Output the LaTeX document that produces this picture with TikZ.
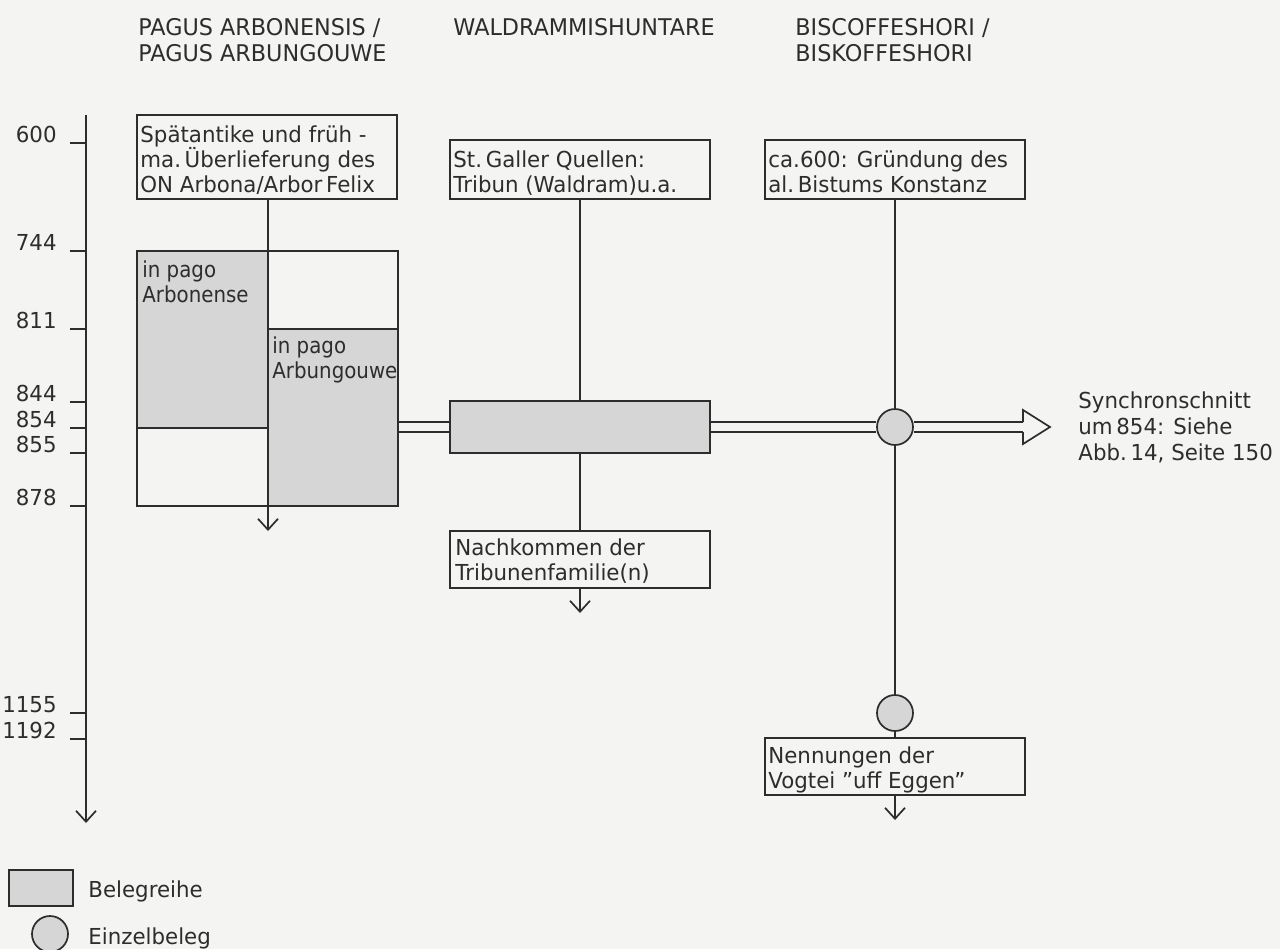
\documentclass[tikz,border=0pt]{standalone}
\usepackage{fontspec}
\setmainfont{DejaVu Sans}[FakeStretch=0.97]
\newfontfamily\narrowfont{DejaVu Sans}[FakeStretch=0.9]
\usetikzlibrary{arrows.meta,fit,backgrounds}
\definecolor{paper}{RGB}{244,244,242}
\definecolor{ink}{RGB}{45,45,45}
\definecolor{shade}{RGB}{214,214,214}
\begin{document}
\begin{tikzpicture}[x=0.5pt,y=-0.5pt,
  ln/.style={draw=ink, line width=0.85pt},
  frame/.style={draw=ink, line width=0.85pt, inner sep=0pt},
  band/.style={draw=ink, line width=0.85pt, inner sep=0pt, fill=shade},
  event/.style={circle, draw=ink, line width=0.85pt, fill=shade, minimum size=18pt, inner sep=0pt},
  txt/.style={anchor=north west, inner sep=0pt, align=left, text=ink, font=\fontsize{11}{12.5}\selectfont},
  head/.style={anchor=north west, inner sep=0pt, align=left, text=ink, font=\fontsize{11.5}{13}\selectfont},
  yr/.style={anchor=base east, inner sep=0pt, text=ink, font=\fontsize{11}{12.5}\selectfont},
  down/.style={draw=ink, line width=0.85pt, -{Straight Barb[length=5.5pt,width=10pt,line width=0.85pt]}},
  dbl/.style={draw=ink, line width=0.85pt, double=paper, double distance=4.15pt},
]
\useasboundingbox (0,0) rectangle (1280,949);

% headings
\node[head] (h1) at (138,18.5) {PAGUS ARBONENSIS /\\PAGUS ARBUNGOUWE};
\node[head] (h2) at (453,18.5) {WALDRAMMISHUNTARE};
\node[head] (h3) at (795,18.5) {BISCOFFESHORI /\\BISKOFFESHORI};

% time axis
\coordinate (axtop) at (86,115);
\coordinate (axend) at (86,823);
\draw[down] (axtop) -- (axend);
\foreach \yy/\t in {143/600,251/744,329/811,402/844,428/854,453/855,506/878,713/1155,739/1192}{
  \draw[ln] (70,\yy) -- (86,\yy);
  \node[yr] (yr\t) at (57,{\yy-1}) {\t};
}

% column 1
\node[frame, fit={(137,115) (397,199)}] (b1) {};
\node[txt] (b1t) at (140,125.3) {Spätantike und früh -\\ma.\,Überlieferung des\\ON Arbona/Arbor\,Felix};
\node[band, fit={(137,251) (268,428)}] (bigL) {};
\node[band, fit={(268,329) (398,506)}] (bigR) {};
\node[frame, fit={(137,251) (398,506)}] (bigrect) {};
\node[txt, font=\narrowfont\fontsize{11}{12.5}\selectfont] (bigLt) at (142,260) {in pago\\Arbonense};
\node[txt, font=\narrowfont\fontsize{11}{12.5}\selectfont] (bigRt) at (272,336) {in pago\\Arbungouwe};
\coordinate (end1) at (268,531);
\draw[down] (b1.south -| end1) -- (end1);

% column 2
\node[frame, fit={(450,140) (710,199)}] (b3) {};
\node[txt] (b3t) at (453,150.3) {St.\,Galler Quellen:\\Tribun (Waldram)u.a.};
\node[band, fit={(450,401) (710,453)}] (b2) {};
\node[frame, fit={(450,531) (710,588)}] (b4) {};
\node[txt] (b4t) at (455,538.3) {Nachkommen der\\Tribunenfamilie(n)};
\coordinate (end2) at (580,613);
\draw[ln] (b3.south) -- (b2.north);
\draw[ln] (b2.south) -- (b4.north);
\draw[down] (b4.south) -- (end2);

% column 3
\node[frame, fit={(765,140) (1025,199)}] (b5) {};
\node[txt] (b5t) at (768,150.3) {ca.600: Gründung des\\al.\,Bistums Konstanz};
\node[event] (c1) at (895,427) {};
\node[event] (c2) at (895,713) {};
\node[frame, fit={(765,738) (1025,795)}] (b6) {};
\node[txt] (b6t) at (768,746.3) {Nennungen der\\Vogtei "uff Eggen"};
\coordinate (end3) at (895,820);
\draw[ln] (b5.south) -- (c1.north);
\draw[ln] (c1.south) -- (c2.north);
\draw[ln] (c2.south) -- (b6.north);
\draw[down] (b6.south) -- (end3);

% synchronic band (double arrow)
\coordinate (headbase) at (1023,427);
\begin{scope}[on background layer]
  \fill[paper] (0,0) rectangle (1280,949);
  \draw[dbl] (bigR.east |- c1.center) -- (b2.west);
  \draw[dbl] (b2.east) -- (c1.west);
  \draw[dbl] (c1.east) -- (headbase);
\end{scope}
\draw[ln, line join=miter] (1023,422) -- (1023,410) -- (1050,427) -- (1023,444) -- (1023,432);
\node[txt, font=\fontsize{11}{13}\selectfont] (sync) at (1078,391.3) {Synchronschnitt\\um\,854: Siehe\\Abb.\,14, Seite 150};

% legend
\node[band, minimum width=32pt, minimum height=18pt, anchor=north west] (lgbox) at (8,869) {};
\node[txt, anchor=base west] (lgt1) at (88,897) {Belegreihe};
\node[event] (lgc) at (50,934) {};
\node[txt, anchor=base west] (lgt2) at (88,944) {Einzelbeleg};
\end{tikzpicture}
\end{document}
